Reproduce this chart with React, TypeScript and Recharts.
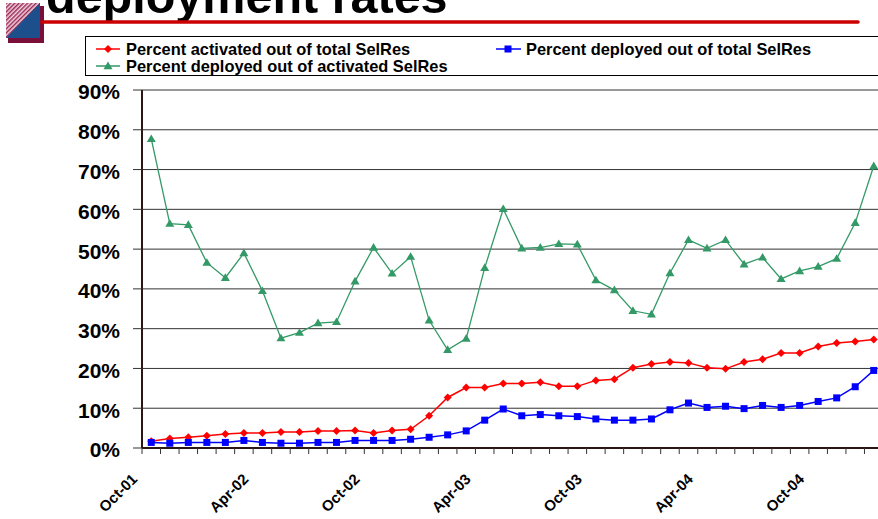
import React from 'react';
import { LineChart, Line, XAxis, YAxis, CartesianGrid } from 'recharts';

const months = [
  'Oct-01', 'Nov-01', 'Dec-01', 'Jan-02', 'Feb-02', 'Mar-02', 'Apr-02', 'May-02',
  'Jun-02', 'Jul-02', 'Aug-02', 'Sep-02', 'Oct-02', 'Nov-02', 'Dec-02', 'Jan-03',
  'Feb-03', 'Mar-03', 'Apr-03', 'May-03', 'Jun-03', 'Jul-03', 'Aug-03', 'Sep-03',
  'Oct-03', 'Nov-03', 'Dec-03', 'Jan-04', 'Feb-04', 'Mar-04', 'Apr-04', 'May-04',
  'Jun-04', 'Jul-04', 'Aug-04', 'Sep-04', 'Oct-04', 'Nov-04', 'Dec-04', 'Jan-05',
];

// percent activated out of total SelRes
const activatedOfTotal = [
  1.7, 2.4, 2.7, 3.1, 3.5, 3.8, 3.8, 4.0, 4.0, 4.3,
  4.3, 4.4, 3.8, 4.4, 4.7, 8.1, 12.7, 15.2, 15.2, 16.2,
  16.2, 16.5, 15.5, 15.5, 17.0, 17.3, 20.2, 21.1, 21.6, 21.4,
  20.2, 19.9, 21.6, 22.3, 23.9, 23.9, 25.5, 26.4, 26.8, 27.3,
];

// percent deployed out of total SelRes
const deployedOfTotal = [
  1.4, 1.2, 1.4, 1.4, 1.4, 1.9, 1.4, 1.2, 1.2, 1.4,
  1.4, 1.9, 1.9, 1.9, 2.2, 2.7, 3.3, 4.3, 7.0, 9.8,
  8.1, 8.4, 8.1, 7.9, 7.3, 7.0, 7.0, 7.3, 9.6, 11.3,
  10.2, 10.5, 9.9, 10.7, 10.2, 10.7, 11.7, 12.6, 15.4, 19.5,
];

// percent deployed out of activated SelRes
const deployedOfActivated = [
  77.7, 56.4, 56.1, 46.6, 42.8, 49.0, 39.5, 27.6, 29.0, 31.4,
  31.7, 41.9, 50.4, 43.9, 48.1, 32.1, 24.7, 27.5, 45.3, 60.1,
  50.2, 50.4, 51.3, 51.2, 42.2, 39.7, 34.5, 33.6, 44.0, 52.3,
  50.2, 52.3, 46.2, 47.9, 42.5, 44.5, 45.6, 47.6, 56.6, 70.9,
];

const yTicks = [0, 10, 20, 30, 40, 50, 60, 70, 80, 90];

const RED = '#ff0000';
const BLUE = '#0000ff';
const GREEN = '#339966';
const FONT = '"Liberation Sans", Arial, Helvetica, sans-serif';

const data = months.map((month, i) => ({
  month,
  activated: activatedOfTotal[i],
  deployed: deployedOfTotal[i],
  ofActivated: deployedOfActivated[i],
}));

function Diamond({ cx, cy, fill }: { cx: number; cy: number; fill: string }) {
  const r = 4;
  return <path d={`M${cx},${cy - r}L${cx + r},${cy}L${cx},${cy + r}L${cx - r},${cy}Z`} fill={fill} />;
}

function Square({ cx, cy, fill }: { cx: number; cy: number; fill: string }) {
  const r = 3.5;
  return <rect x={cx - r} y={cy - r} width={r * 2} height={r * 2} fill={fill} />;
}

function Triangle({ cx, cy, fill }: { cx: number; cy: number; fill: string }) {
  const r = 4.5;
  return <path d={`M${cx},${cy - r}L${cx + r},${cy + r * 0.7}L${cx - r},${cy + r * 0.7}Z`} fill={fill} />;
}

function MonthTick(props: any) {
  const { x, y, payload } = props;
  const edge = x - (payload.offset ?? 0);
  const lx = x - 13;
  const ly = y + 32;
  return (
    <g>
      <line x1={edge} y1={y} x2={edge} y2={y + 6} stroke="#333" strokeWidth={1} />
      {payload.index % 6 === 0 && (
        <text
          x={lx}
          y={ly}
          transform={`rotate(-45 ${lx} ${ly})`}
          textAnchor="end"
          fontFamily={FONT}
          fontWeight="bold"
          fontSize={15}
          fill="#000"
        >
          {payload.value}
        </text>
      )}
    </g>
  );
}

function Overlay() {
  return (
    <svg
      width={878}
      height={519}
      style={{ position: 'absolute', left: 0, top: 0, pointerEvents: 'none' }}
    >
      <defs>
        <pattern id="hatch" width="3" height="3" patternUnits="userSpaceOnUse" patternTransform="rotate(45)">
          <rect width="3" height="3" fill="#f3d9e3" />
          <rect width="1.5" height="3" fill="#9a2a55" />
        </pattern>
      </defs>
      {/* logo */}
      <rect x={8} y={6} width={36} height={37} fill="#7a0f3a" />
      <rect x={6} y={3} width={34} height={35} fill="url(#hatch)" />
      <path d="M40,3 L40,38 L6,38 Z" fill="#1d4f8c" />

      <text x={46} y={13} fontFamily={FONT} fontWeight="bold" fontSize={48.5} fill="#000">
        deployment rates
      </text>
      <line x1={42} y1={22} x2={858} y2={22} stroke="#cc0000" strokeWidth={3.5} strokeLinecap="round" />

      {/* legend */}
      <rect x={85.5} y={36.5} width={820} height={39} fill="#fff" stroke="#000" strokeWidth={1} />
      <g fontFamily={FONT} fontWeight="bold" fontSize={16.4} fill="#000">
        <line x1={96} y1={49} x2={120} y2={49} stroke={RED} strokeWidth={1.5} />
        <Diamond cx={108} cy={49} fill={RED} />
        <text x={126} y={55}>Percent activated out of total SelRes</text>

        <line x1={496} y1={49} x2={521} y2={49} stroke={BLUE} strokeWidth={1.5} />
        <Square cx={508} cy={49} fill={BLUE} />
        <text x={526} y={55}>Percent deployed out of total SelRes</text>

        <line x1={96} y1={66} x2={120} y2={66} stroke={GREEN} strokeWidth={1.5} />
        <Triangle cx={108} cy={66} fill={GREEN} />
        <text x={126} y={72}>Percent deployed out of activated SelRes</text>
      </g>
    </svg>
  );
}

export default function App() {
  return (
    <div
      style={{
        position: 'absolute',
        left: 0,
        top: 0,
        width: 878,
        height: 519,
        overflow: 'hidden',
        background: '#fff',
      }}
    >
      <LineChart
        width={900}
        height={519}
        data={data}
        margin={{ top: 90, right: 17, bottom: 10, left: 0 }}
      >
        <CartesianGrid horizontal vertical={false} stroke="#333" strokeDasharray="" />
        <XAxis
          dataKey="month"
          scale="band"
          interval={0}
          height={61}
          tickLine={false}
          tickSize={0}
          tickMargin={0}
          axisLine={{ stroke: '#2b1515', strokeWidth: 2 }}
          tick={<MonthTick />}
        />
        <YAxis
          width={142}
          domain={[0, 90]}
          ticks={yTicks}
          tickFormatter={(v: number) => `${v}%`}
          tickSize={9}
          tickMargin={13}
          axisLine={{ stroke: '#2b1515', strokeWidth: 2 }}
          tickLine={{ stroke: '#333' }}
          tick={{ fontFamily: FONT, fontWeight: 'bold', fontSize: 21, fill: '#000', dy: 2 }}
        />
        <Line
          dataKey="activated"
          stroke={RED}
          strokeWidth={1.5}
          isAnimationActive={false}
          dot={(p: any) => <Diamond key={`r${p.index}`} cx={p.cx} cy={p.cy} fill={RED} />}
        />
        <Line
          dataKey="deployed"
          stroke={BLUE}
          strokeWidth={1.5}
          isAnimationActive={false}
          dot={(p: any) => <Square key={`b${p.index}`} cx={p.cx} cy={p.cy} fill={BLUE} />}
        />
        <Line
          dataKey="ofActivated"
          stroke={GREEN}
          strokeWidth={1.3}
          isAnimationActive={false}
          dot={(p: any) => <Triangle key={`g${p.index}`} cx={p.cx} cy={p.cy} fill={GREEN} />}
        />
      </LineChart>
      <Overlay />
    </div>
  );
}
